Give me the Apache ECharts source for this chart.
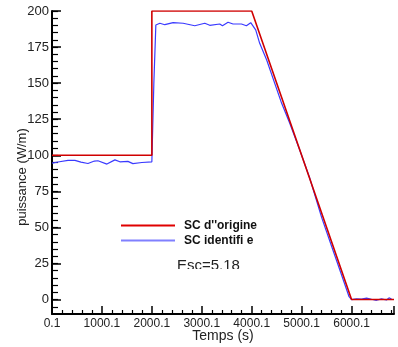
<!DOCTYPE html>
<html><head><meta charset="utf-8">
<script src="https://cdn.jsdelivr.net/npm/echarts@6/dist/echarts.min.js"></script>
<style>html,body{margin:0;padding:0;background:#fff}#c{width:398px;height:347px}</style>
</head><body><div id="c"></div>
<script>
// Data
const seriesNames = ["SC d''origine", "SC identifi e"];
const redX = [0.1, 2000.1, 2000.1, 4000.1, 6000.1, 6850];
const redY = [100, 100, 200, 200, 0, 0];
const blueX = [0.1, 150, 320, 460, 580, 720, 850, 920, 1100, 1260, 1360, 1520, 1620, 1800, 2000.1,
  2040, 2080, 2160, 2260, 2426, 2626, 2860, 3060, 3160, 3360, 3414, 3526, 3626, 3794, 3894, 3980,
  4080, 4160, 4300, 4600, 4760, 4960, 5160, 5400, 5600, 5800, 5950, 6000.1,
  6100, 6200, 6300, 6400, 6500, 6600, 6700, 6750, 6800];
const blueY = [94.6, 95.5, 96.5, 96.5, 95.3, 94.3, 96.0, 96.2, 93.9, 96.8, 95.5, 95.8, 94.2, 95.0, 95.5,
  150, 190.3, 191.5, 190.5, 191.9, 191.5, 189.8, 191.5, 190.1, 191.0, 189.8, 192.2, 191.0, 191.0, 189.8, 191.9,
  186.9, 177.6, 166, 136, 122.4, 103.8, 84.4, 57, 37, 17, 2, 0,
  0.5, 0.3, 1.0, 0.2, -0.5, 0.5, -0.3, 1.2, 0.3];
const yTickLabels = [0, 25, 50, 75, 100, 125, 150, 175, 200];
const yMinorTicks = [-5, 0, 5, 10, 15, 20, 25, 30, 35, 40, 45, 50, 55, 60, 65, 70, 75, 80, 85, 90, 95,
  100, 105, 110, 115, 120, 125, 130, 135, 140, 145, 150, 155, 160, 165, 170, 175, 180, 185, 190, 195, 200];
const xTickStart = 0.1;
const annotation = "Esc=5.18";

const toPairs = (xs, ys) => xs.map((x, i) => [x, ys[i]]);
const FONT = "'Liberation Sans', Arial, sans-serif";

const chart = echarts.init(document.getElementById('c'), null, {renderer: 'canvas'});
chart.setOption({
  animation: false,
  backgroundColor: '#fff',
  grid: {left: 52, top: 11, right: 4, bottom: 33, containLabel: false, outerBoundsMode: 'none'},
  legend: {
    orient: 'vertical', left: 121, top: 219, itemGap: 2, padding: 0,
    itemWidth: 54, itemHeight: 2,
    data: [
      {name: seriesNames[0], icon: 'rect', itemStyle: {color: '#e00000'}},
      {name: seriesNames[1], icon: 'rect', itemStyle: {color: '#8080ff'}}
    ],
    textStyle: {fontFamily: FONT, fontSize: 12, fontWeight: 'bold', color: '#111', padding: [0, 0, 0, 4], lineHeight: 13}
  },
  xAxis: {
    type: 'value', min: 0, max: 6850, interval: 1000,
    name: 'Temps (s)', nameLocation: 'middle', nameGap: 15, nameMoveOverlap: false,
    nameTextStyle: {fontFamily: FONT, fontSize: 14, color: '#222'},
    axisLine: {show: true, onZero: false, lineStyle: {color: '#000', width: 2}},
    axisTick: {show: true, inside: true, length: 8, lineStyle: {color: '#000', width: 1.5}},
    minorTick: {show: true, splitNumber: 5, length: 4, lineStyle: {color: '#000', width: 1.2}},
    splitLine: {show: false},
    axisLabel: {margin: 4, fontFamily: FONT, fontSize: 12, color: '#222',
      formatter: v => (v + xTickStart).toFixed(1), showMaxLabel: false}
  },
  yAxis: [{
    type: 'value', min: -10, max: 200, position: 'left',
    axisLine: {show: true, onZero: false, lineStyle: {color: '#000', width: 2}},
    axisTick: {show: true, inside: true, length: 9, customValues: yTickLabels, lineStyle: {color: '#000', width: 1.5}},
    splitLine: {show: false},
    axisLabel: {margin: 3, fontFamily: FONT, fontSize: 13, color: '#222', customValues: yTickLabels}
  }, {
    type: 'value', min: -10, max: 200, position: 'left',
    axisLine: {show: false},
    axisTick: {show: true, inside: true, length: 6, customValues: yMinorTicks, lineStyle: {color: '#000', width: 1.2}},
    splitLine: {show: false},
    axisLabel: {show: false}
  }],
  series: [{
    name: seriesNames[1], type: 'line', yAxisIndex: 0, data: toPairs(blueX, blueY),
    showSymbol: false, symbol: 'none', lineStyle: {color: '#3a3aff', width: 1.2}, itemStyle: {color: '#8080ff'}, z: 2
  }, {
    name: seriesNames[0], type: 'line', yAxisIndex: 0, data: toPairs(redX, redY),
    showSymbol: false, symbol: 'none', lineStyle: {color: '#d00000', width: 1.6}, itemStyle: {color: '#e00000'}, z: 3
  }],
  graphic: [
    {type: 'text', x: 22, y: 177, rotation: Math.PI / 2,
      style: {text: 'puissance (W/m)', font: '13px ' + FONT, fill: '#222', textAlign: 'center', textVerticalAlign: 'middle'},
      z: 10},
    {type: 'text', x: 177, y: 258.5, style: {text: annotation, font: '15px ' + FONT, fill: '#222', textAlign: 'left', textVerticalAlign: 'top'}, z: 10},
    {type: 'rect', shape: {x: 170, y: 269, width: 80, height: 8}, style: {fill: '#fff'}, z: 11}
  ]
});
</script>
</body></html>
